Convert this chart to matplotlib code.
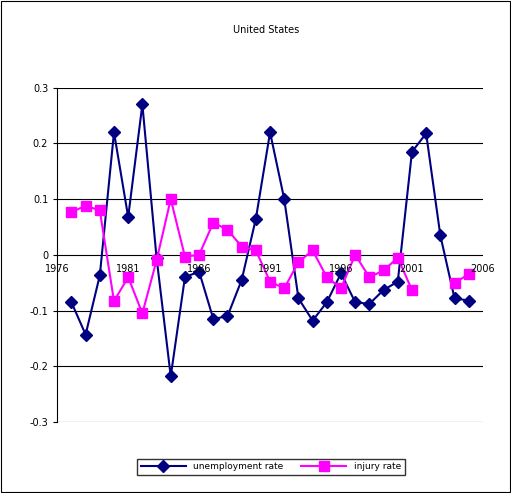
import numpy as np
import matplotlib
matplotlib.use("Agg")
import matplotlib.pyplot as plt

years = list(range(1977, 2006))
unemp = [-0.085, -0.143, -0.037, 0.22, 0.068, 0.27, -0.005, -0.218, -0.04, -0.03,
         -0.115, -0.11, -0.045, 0.065, 0.22, 0.1, -0.078, -0.118, -0.085, -0.033,
         -0.085, -0.088, -0.063, -0.048, 0.185, 0.218, 0.035, -0.078, -0.082]
injury = [0.077, 0.088, 0.08, -0.083, -0.04, -0.105, -0.01, 0.1, -0.003, 0.0,
          0.058, 0.045, 0.015, 0.008, -0.048, -0.06, -0.013, 0.008, -0.04, -0.06,
          0.0, -0.04, -0.028, -0.005, -0.063, np.nan, np.nan, -0.05, -0.035]
xticks = [1976, 1981, 1986, 1991, 1996, 2001, 2006]
yticks = [-0.3, -0.2, -0.1, 0, 0.1, 0.2, 0.3]

fig = plt.figure(figsize=(5.11, 4.93), dpi=100)
fig.patches.append(plt.Rectangle((0.002, 0.002), 0.996, 0.996, transform=fig.transFigure,
                                 fill=False, edgecolor='black', lw=0.8))
ax = fig.add_axes([0.112, 0.144, 0.833, 0.678])
ax.plot(years, unemp, color='#000080', marker='D', ms=6, lw=1.5, label='unemployment rate')
ax.plot(years, injury, color='#FF00FF', marker='s', ms=6.5, lw=1.5, label='injury rate')
ax.set_xlim(1976, 2006)
ax.set_ylim(-0.3, 0.3)
ax.set_yticks(yticks)
ax.set_yticklabels(['-0.3', '-0.2', '-0.1', '0', '0.1', '0.2', '0.3'], fontsize=7)
ax.set_xticks([])
for y in yticks:
    ax.axhline(y, color='black', lw=0.8, zorder=0)
for x in xticks:
    ax.text(x, -0.016, str(x), ha='center', va='top', fontsize=7)
for s in ['top', 'right', 'bottom']:
    ax.spines[s].set_visible(False)
ax.tick_params(axis='y', length=3)
fig.text(0.52, 0.94, 'United States', ha='center', va='center', fontsize=7)
fig.legend(loc='center', bbox_to_anchor=(0.53, 0.053), ncol=2, fontsize=6.5,
           frameon=True, fancybox=False, edgecolor='black', handlelength=5)
fig.savefig('out.png', dpi=100)
